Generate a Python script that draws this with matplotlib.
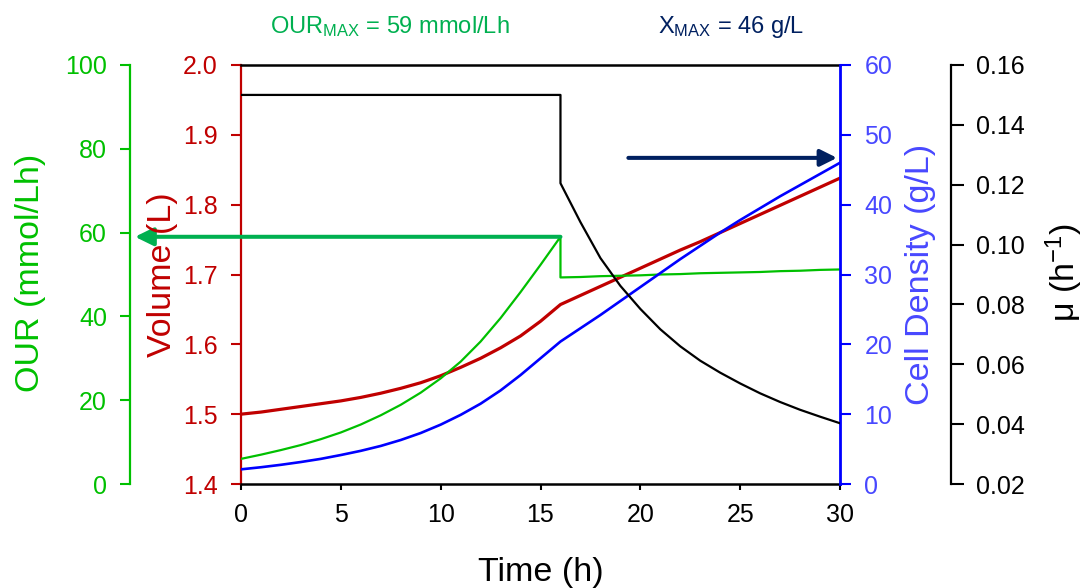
import matplotlib
matplotlib.use('Agg')
import matplotlib.pyplot as plt
from matplotlib.ticker import FormatStrFormatter

plt.rcParams['font.family'] = ['Liberation Sans', 'DejaVu Sans']
plt.rcParams['mathtext.default'] = 'regular'

# ---------------- data ----------------
time = [0, 1, 2, 3, 4, 5, 6, 7, 8, 9, 10, 11, 12, 13, 14, 15, 16,
        16, 17, 18, 19, 20, 21, 22, 23, 24, 25, 26, 27, 28, 29, 30]
volume = [1.500, 1.503, 1.507, 1.511, 1.515, 1.519, 1.524, 1.530, 1.537, 1.545,
          1.555, 1.567, 1.580, 1.595, 1.612, 1.633, 1.657,
          1.657, 1.670, 1.683, 1.696, 1.709, 1.722, 1.735, 1.747, 1.760, 1.773,
          1.786, 1.799, 1.812, 1.825, 1.838]
cell_density = [2.1, 2.4, 2.75, 3.15, 3.6, 4.15, 4.75, 5.45, 6.3, 7.3,
                8.5, 9.9, 11.5, 13.4, 15.6, 18.0, 20.4,
                20.4, 22.3, 24.2, 26.2, 28.2, 30.2, 32.2, 34.1, 36.0, 37.8,
                39.5, 41.2, 42.8, 44.4, 46.0]
our = [6.0, 7.0, 8.1, 9.3, 10.7, 12.3, 14.2, 16.4, 18.9, 21.8,
       25.2, 29.2, 34.0, 39.6, 45.8, 52.3, 59.0,
       49.3, 49.4, 49.6, 49.7, 49.8, 50.0, 50.1, 50.3, 50.4, 50.5,
       50.6, 50.8, 50.9, 51.1, 51.2]
mu = [0.150, 0.150, 0.150, 0.150, 0.150, 0.150, 0.150, 0.150, 0.150, 0.150,
      0.150, 0.150, 0.150, 0.150, 0.150, 0.150, 0.150,
      0.1205, 0.1075, 0.0955, 0.0862, 0.0785, 0.0717, 0.0660, 0.0612, 0.0572,
      0.0536, 0.0503, 0.0474, 0.0448, 0.0425, 0.0403]

x_ticks = [0, 5, 10, 15, 20, 25, 30]
volume_ticks = [1.4, 1.5, 1.6, 1.7, 1.8, 1.9, 2.0]
our_ticks = [0, 20, 40, 60, 80, 100]
cd_ticks = [0, 10, 20, 30, 40, 50, 60]
mu_ticks = [0.02, 0.04, 0.06, 0.08, 0.10, 0.12, 0.14, 0.16]

T_SWITCH = 16.0
OUR_MAX = 59
X_MAX = 46

# ---------------- style ----------------
GREEN = '#00C000'
GREEN_ARROW = '#00B050'
RED = '#C00000'
BLUE = '#0000FF'
BLUE_TXT = '#4848FF'
NAVY = '#002060'
PT = 72 / 100.0  # points per pixel at dpi 100
W, H = 1085, 588
TICK_FS = 18
LABEL_FS = 24.5

fig = plt.figure(figsize=(W / 100, H / 100), dpi=100)
ax = fig.add_axes([241 / W, 1 - 484 / H, 599 / W, 419 / H])


def px(x, y):
    return x / W, 1 - y / H


# main axes: time + volume
ax.plot(time, volume, color=RED, lw=2.3, zorder=3)
ax.set_xlim(0, 30)
ax.set_ylim(1.4, 2.0)
ax.set_xticks(x_ticks)
ax.set_yticks(volume_ticks)
ax.yaxis.set_major_formatter(FormatStrFormatter('%.1f'))
ax.tick_params(axis='y', colors=RED, direction='out', length=7, width=1.5,
               pad=10, labelsize=TICK_FS)
ax.tick_params(axis='x', colors='black', direction='out', length=4.5, width=1.5,
               pad=9.5, labelsize=TICK_FS)
ax.spines['left'].set_color(RED)
ax.spines['left'].set_linewidth(1.6)
ax.spines['right'].set_visible(False)
for s in ('top', 'bottom'):
    ax.spines[s].set_color('black')
    ax.spines[s].set_linewidth(1.8)

# OUR axis (far left)
ax_our = ax.twinx()
ax_our.yaxis.set_label_position('left')
ax_our.yaxis.set_ticks_position('left')
for s in ('top', 'bottom', 'right'):
    ax_our.spines[s].set_visible(False)
ax_our.spines['left'].set_visible(True)
ax_our.spines['left'].set_position(('outward', 111 * PT))
ax_our.spines['left'].set_color(GREEN)
ax_our.spines['left'].set_linewidth(1.6)
ax_our.set_ylim(0, 100)
ax_our.set_yticks(our_ticks)
ax_our.tick_params(axis='y', colors=GREEN, direction='out', length=7, width=1.5,
                   pad=9.5, labelsize=TICK_FS)
ax_our.plot(time, our, color=GREEN, lw=1.6, zorder=3)

# Cell density axis (right spine)
ax_cd = ax.twinx()
for s in ('top', 'bottom', 'left'):
    ax_cd.spines[s].set_visible(False)
ax_cd.spines['right'].set_color(BLUE)
ax_cd.spines['right'].set_linewidth(2.0)
ax_cd.set_ylim(0, 60)
ax_cd.set_yticks(cd_ticks)
ax_cd.tick_params(axis='y', color=BLUE, labelcolor=BLUE_TXT, direction='out',
                  length=8, width=1.5, pad=9.5, labelsize=TICK_FS)
ax_cd.plot(time, cell_density, color=BLUE, lw=1.9, zorder=3)

# mu axis (far right)
ax_mu = ax.twinx()
for s in ('top', 'bottom', 'left'):
    ax_mu.spines[s].set_visible(False)
ax_mu.spines['right'].set_position(('outward', 111 * PT))
ax_mu.spines['right'].set_color('black')
ax_mu.spines['right'].set_linewidth(1.6)
ax_mu.set_ylim(0.02, 0.16)
ax_mu.set_yticks(mu_ticks)
ax_mu.yaxis.set_major_formatter(FormatStrFormatter('%.2f'))
ax_mu.tick_params(axis='y', colors='black', direction='out', length=9, width=1.5,
                  pad=9, labelsize=TICK_FS)
ax_mu.plot(time, mu, color='black', lw=1.6, zorder=3)

# arrows
ax_our.annotate('', xy=(-0.177, OUR_MAX), xycoords=('axes fraction', 'data'),
                xytext=(T_SWITCH, OUR_MAX), textcoords='data',
                arrowprops=dict(arrowstyle='-|>,head_length=0.55,head_width=0.27',
                                mutation_scale=20, lw=2.9, color=GREEN_ARROW,
                                shrinkA=0, shrinkB=0),
                annotation_clip=False, zorder=5)
ax_cd.annotate('', xy=(29.85, X_MAX + 0.7), xycoords='data',
               xytext=(19.4, X_MAX + 0.7), textcoords='data',
               arrowprops=dict(arrowstyle='-|>,head_length=0.5,head_width=0.25',
                               mutation_scale=20, lw=2.9, color=NAVY,
                               shrinkA=0, shrinkB=0),
               annotation_clip=False, zorder=5)

# axis labels
fig.text(*px(30, 273), 'OUR (mmol/Lh)', color=GREEN, fontsize=LABEL_FS,
         rotation=90, ha='center', va='center')
fig.text(*px(162, 275), 'Volume (L)', color=RED, fontsize=LABEL_FS,
         rotation=90, ha='center', va='center')
fig.text(*px(920, 274), 'Cell Density (g/L)', color=BLUE_TXT, fontsize=LABEL_FS,
         rotation=90, ha='center', va='center')
fig.text(*px(1064, 273), '\u03bc (h$^{-1}$)', color='black', fontsize=LABEL_FS,
         rotation=90, ha='center', va='center')
fig.text(*px(540.5, 581), 'Time (h)', color='black', fontsize=LABEL_FS,
         ha='center', va='baseline')

# top annotations
fig.text(*px(390, 33), 'OUR$_{MAX}$ = 59 mmol/Lh', color=GREEN_ARROW,
         fontsize=17, ha='center', va='baseline')
fig.text(*px(731, 33), 'X$_{MAX}$ = 46 g/L', color=NAVY,
         fontsize=17, ha='center', va='baseline')

fig.savefig('out.png', dpi=100)
